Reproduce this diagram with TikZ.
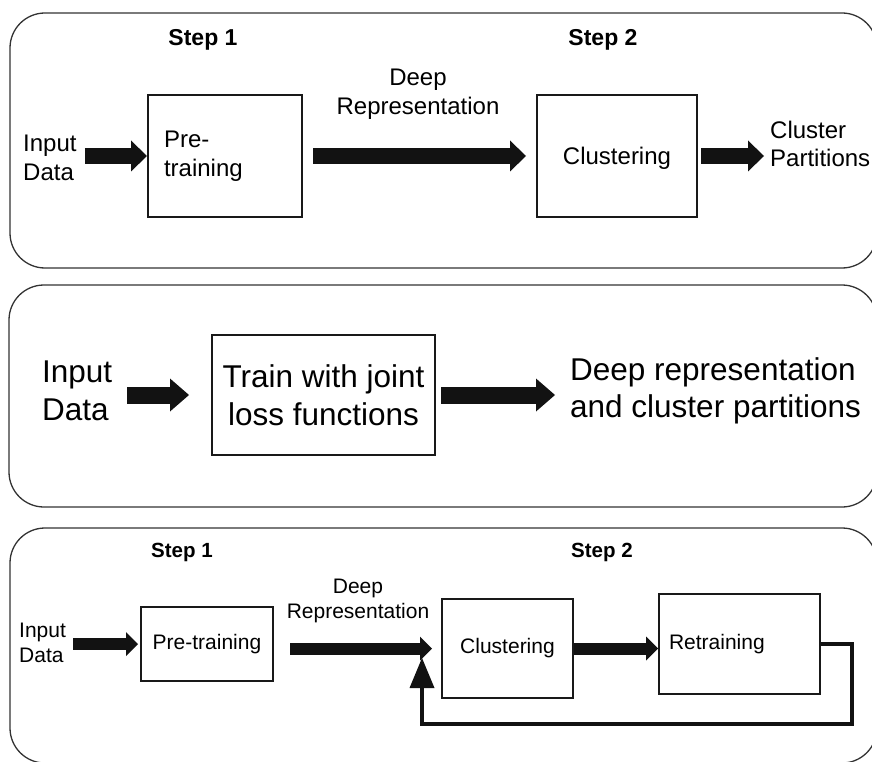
\documentclass[tikz,border=0pt]{standalone}
\usepackage{fontspec}
\setmainfont{Liberation Sans}
\usetikzlibrary{arrows.meta}

\begin{document}
\begin{tikzpicture}
[
    x=1pt, y=-1pt,
    panel/.style={draw=black!80, line width=1.3pt, rounded corners=35pt},
    proc/.style={draw=black!90, line width=2pt, inner sep=0pt},
    txt/.style={inner sep=4pt, align=left, anchor=west},
    steptitle/.style={font=\bfseries\fontsize{23}{27}\selectfont},
    flow/.style={line width=16pt, draw=black!93, -{Triangle[length=16pt, width=31pt, line width=0pt]}},
    feedback/.style={line width=4pt, draw=black!93, -{Triangle[length=30pt, width=25pt, line width=0pt]}}
]
    \useasboundingbox (0,0) rectangle (872,762);

    % two steps: pre-training, then clustering
    \begin{scope}[font=\fontsize{24}{28.5}\selectfont]
        \draw [panel] (10,13) rectangle (877,268);
        \node [steptitle] (stepA1) at (203,40) {Step 1};
        \node [steptitle] (stepA2) at (603,40) {Step 2};
        \node [txt] (inA) at (19,158) {Input\\Data};
        \node [proc, minimum height=122pt, text width=122pt, inner xsep=16pt, align=left] (preA) at (225,156) {Pre-\\training};
        \node [align=center] (deepA) at (418,94) {Deep\\Representation};
        \node [proc, minimum width=160pt, minimum height=122pt, text depth=0pt] (cluA) at (617,156) {Clustering};
        \node [txt] (outA) at (766,144) {Cluster\\Partitions};
        \draw [flow, shorten <=4pt] (preA.west -| inA.east) -- (preA.west);
        \draw [flow, shorten <=10pt, shorten >=10pt] (preA.east) -- (cluA.west);
        \draw [flow, shorten <=3pt, shorten >=2pt] (cluA.east) -- (cluA.east -| outA.west);
    \end{scope}

    % one step: joint training
    \begin{scope}[font=\fontsize{31.5}{37.5}\selectfont,
                  flow/.append style={line width=17pt, -{Triangle[length=19pt, width=33pt, line width=0pt]}}]
        \draw [panel] (9,285) rectangle (877,507);
        \node [txt] (inB) at (38,391) {Input\\Data};
        \node [proc, minimum width=223pt, minimum height=120pt, align=center] (trainB) at (323.5,395) {Train with joint\\loss functions};
        \node [txt] (outB) at (566,391) {Deep representation\\and cluster partitions};
        \draw [flow, shorten <=11pt, shorten >=22pt] (trainB.west -| inB.east) -- (trainB.west);
        \draw [flow, shorten <=5pt, shorten >=11pt] (trainB.east) -- (trainB.east -| outB.west);
    \end{scope}

    % two steps with retraining loop
    \begin{scope}[font=\fontsize{21}{25}\selectfont,
                  steptitle/.append style={font=\bfseries\fontsize{20.5}{24}\selectfont},
                  flow/.append style={line width=12pt, -{Triangle[length=12pt, width=24pt, line width=0pt]}}]
        \draw [panel] (10,528) rectangle (877,763);
        \node [steptitle] (stepC1) at (182,552) {Step 1};
        \node [steptitle] (stepC2) at (602,552) {Step 2};
        \node [txt] (inC) at (15,643) {Input\\Data};
        \node [proc, minimum width=132pt, minimum height=74pt] (preC) at (207,644) {Pre-training};
        \node [align=center] (deepC) at (358,601) {Deep\\Representation};
        \node [proc, minimum width=131pt, minimum height=99pt] (cluC) at (507.5,648.5) {Clustering};
        \node [proc, minimum height=100pt, text width=141pt, inner xsep=10pt, align=left] (retrC) at (739.5,644) {Retraining};
        \coordinate (fbtip) at (422,658);
        \draw [flow, shorten <=3pt, shorten >=2pt] (preC.west -| inC.east) -- (preC.west);
        \draw [flow, shorten <=16pt, shorten >=9pt] (cluC.west -| preC.east) -- (cluC.west);
        \draw [flow] (cluC.east) -- (cluC.east -| retrC.west);
        \draw [feedback] (retrC.east) -| (852,724) -| (fbtip);
    \end{scope}
\end{tikzpicture}
\end{document}
